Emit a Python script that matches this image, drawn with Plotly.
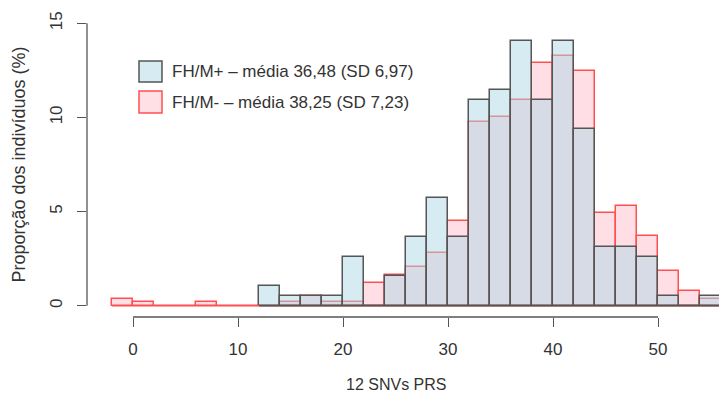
import plotly.graph_objects as go

# ---- data ----
bin_start = list(range(-2, 56, 2))          # histogram bins of width 2
bin_width = 2
fhm_neg = [0.36, 0.18, 0, 0, 0.18, 0, 0, 0, 0.18, 0.54, 0.18, 0.18, 1.19, 1.63, 2.04,
           2.81, 4.50, 9.78, 10.01, 10.90, 12.89, 13.28, 12.48, 4.92, 5.28, 3.68, 1.83,
           0.80, 0.36]
fhm_pos = [None] * 7 + [1.04, 0.52, 0.52, 0.52, 2.60, 0, 1.56, 3.65, 5.73, 3.65, 10.94,
                        11.46, 14.06, 10.94, 14.06, 9.38, 3.13, 3.13, 2.60, 0.52, 0, 0.52]
legend_labels = ["FH/M+ – média 36,48 (SD 6,97)", "FH/M- – média 38,25 (SD 7,23)"]
x_ticks = [0, 10, 20, 30, 40, 50]
y_ticks = [0, 5, 10, 15]
x_title = "12 SNVs PRS"
y_title = "Proporção dos indivíduos (%)"

# ---- styles ----
W, H = 719, 396
L, R, T, B = 87, 719, 12, 317
FONT = "Liberation Sans, Arial, sans-serif"
TXT = "#333333"
BLUE_FILL = "rgba(173,216,230,0.5)"
PINK_FILL = "rgba(255,192,203,0.5)"
BLUE_LINE = "#555555"
RED_LINE = "#ff5050"
AX = "#555555"
XR = [(L - 133) / 10.5, (R - 133) / 10.5]
YR = [-0.6, 15.6]


def pxx(p):
    return (p - L) / (R - L)


def pxy(p):
    return (B - p) / (B - T)


def dx(v):
    return (v - XR[0]) / (XR[1] - XR[0])


def dy(v):
    return (v - YR[0]) / (YR[1] - YR[0])


centers = [s + bin_width / 2 for s in bin_start]
neg_first = bin_start[0]
pos_first = bin_start[next(i for i, v in enumerate(fhm_pos) if v is not None)]
last_edge = bin_start[-1] + bin_width

fig = go.Figure()
fig.add_trace(go.Scatter(x=[neg_first, last_edge], y=[0, 0], mode="lines",
                         line=dict(color=RED_LINE, width=1.5), showlegend=False,
                         hoverinfo="skip"))
fig.add_trace(go.Bar(x=centers, y=fhm_neg, width=bin_width, name=legend_labels[1],
                     marker=dict(color=PINK_FILL, line=dict(color=RED_LINE, width=1.5))))
fig.add_trace(go.Scatter(x=[pos_first, last_edge], y=[0, 0], mode="lines",
                         line=dict(color=BLUE_LINE, width=1.5), showlegend=False,
                         hoverinfo="skip"))
fig.add_trace(go.Bar(x=centers, y=fhm_pos, width=bin_width, name=legend_labels[0],
                     marker=dict(color=BLUE_FILL, line=dict(color=BLUE_LINE, width=1.5))))

shapes = [
    # axis lines spanning tick range (R style)
    dict(type="line", xref="paper", yref="paper", x0=dx(x_ticks[0]), x1=dx(x_ticks[-1]),
         y0=0, y1=0, line=dict(color=AX, width=1.3), layer="above"),
    dict(type="line", xref="paper", yref="paper", x0=0, x1=0, y0=dy(y_ticks[0]),
         y1=dy(y_ticks[-1]), line=dict(color=AX, width=1.3), layer="above"),
    # legend boxes
    dict(type="rect", xref="paper", yref="paper", x0=pxx(139), x1=pxx(162), y0=pxy(82), y1=pxy(61),
         fillcolor="rgb(214,235,242)", line=dict(color=BLUE_LINE, width=1.5)),
    dict(type="rect", xref="paper", yref="paper", x0=pxx(139), x1=pxx(162), y0=pxy(113), y1=pxy(91),
         fillcolor="rgb(255,224,229)", line=dict(color=RED_LINE, width=1.5)),
]

annotations = [
    dict(xref="paper", yref="paper", x=pxx(170), y=pxy(71.5), text=legend_labels[0],
         showarrow=False, xanchor="left", yanchor="middle", font=dict(size=17, color=TXT, family=FONT)),
    dict(xref="paper", yref="paper", x=pxx(170), y=pxy(102), text=legend_labels[1],
         showarrow=False, xanchor="left", yanchor="middle", font=dict(size=17, color=TXT, family=FONT)),
    dict(xref="x", yref="paper", x=(x_ticks[0] + x_ticks[-1]) / 2, y=pxy(384), text=x_title,
         showarrow=False, xanchor="center", yanchor="middle", font=dict(size=16, color=TXT, family=FONT)),
    dict(xref="paper", yref="y", x=pxx(18), y=(y_ticks[0] + y_ticks[-1]) / 2, text=y_title,
         showarrow=False, xanchor="center", yanchor="middle", textangle=-90,
         font=dict(size=18, color=TXT, family=FONT)),
]

fig.update_layout(
    width=W, height=H,
    margin=dict(l=L, r=W - R, t=T, b=H - B, pad=0),
    paper_bgcolor="white", plot_bgcolor="white",
    barmode="overlay", bargap=0,
    showlegend=False,
    font=dict(family=FONT, color=TXT, size=17),
    shapes=shapes, annotations=annotations,
    xaxis=dict(range=XR, tickvals=x_ticks,
               ticks="outside", ticklen=9, tickcolor=AX, tickwidth=1.3,
               showgrid=False, zeroline=False, showline=False,
               tickfont=dict(size=17, color=TXT), ticklabelstandoff=8),
    yaxis=dict(range=YR, tickvals=y_ticks, tickangle=-90,
               ticks="outside", ticklen=9, tickcolor=AX, tickwidth=1.3,
               showgrid=False, zeroline=False, showline=False,
               tickfont=dict(size=17, color=TXT), ticklabelstandoff=8),
)

fig.write_html(
    "out.html",
    config={"displayModeBar": False},
    post_script="document.body.style.margin='0';document.body.style.overflow='hidden';",
)
